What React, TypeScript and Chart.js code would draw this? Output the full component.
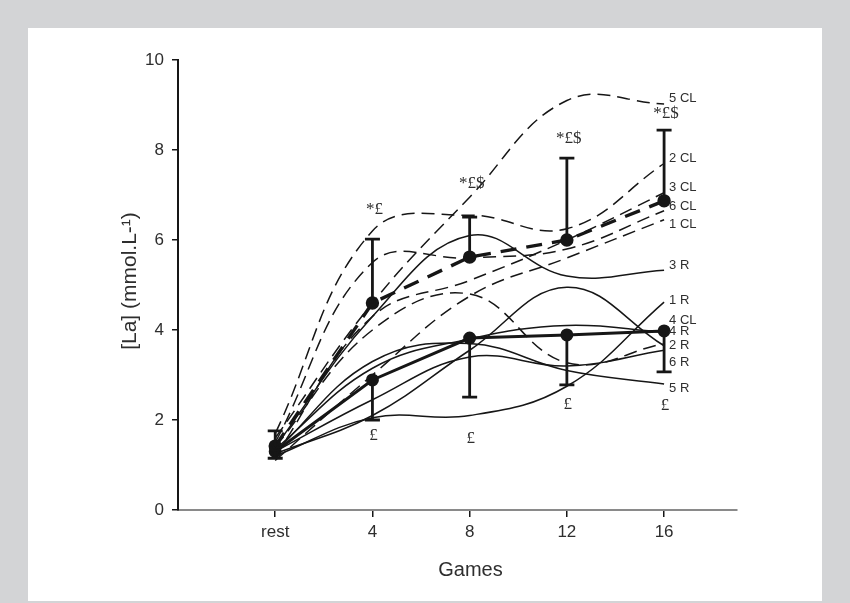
import React, { useEffect, useRef } from "react";
import { Chart, registerables } from "chart.js";

Chart.register(...registerables);

// ---- data ----
const games = [0, 4, 8, 12, 16];
const tickLabels = ["rest", "4", "8", "12", "16"];
const yTicks = [0, 2, 4, 6, 8, 10];

const cl1 = [1.1, 3.0, 4.75, 5.6, 6.45];
const cl2 = [1.7, 6.2, 6.55, 6.25, 7.7];
const cl3 = [1.2, 4.3, 5.1, 6.0, 7.05];
const cl4 = [1.4, 4.0, 4.8, 3.27, 3.7];
const cl5 = [1.6, 4.6, 6.95, 9.1, 9.02];
const cl6 = [1.5, 5.5, 5.6, 5.8, 6.65];

const r1 = [1.2, 2.05, 2.1, 2.75, 4.62];
const r2 = [1.25, 2.1, 3.55, 4.95, 3.65];
const r3 = [1.4, 4.3, 6.1, 5.2, 5.33];
const r4 = [1.35, 3.15, 3.8, 4.1, 3.95];
const r5 = [1.3, 3.3, 3.7, 3.1, 2.8];
const r6 = [1.3, 2.45, 3.4, 3.2, 3.55];

const clMean = [1.42, 4.6, 5.62, 6.0, 6.87];
const clUpper = [1.76, 6.02, 6.51, 7.82, 8.44];
const rMean = [1.3, 2.89, 3.82, 3.89, 3.98];
const rLower = [1.15, 2.0, 2.51, 2.78, 3.07];

const clMarks = ["", "*£", "*£$", "*£$", "*£$"];
const rMarks = ["", "£", "£", "£", "£"];

const clNames = ["1 CL", "2 CL", "3 CL", "4 CL", "5 CL", "6 CL"];
const rNames = ["1 R", "2 R", "3 R", "4 R", "5 R", "6 R"];

// ---- layout nudges (pixels) ----
const clMarkDy = [0, -30, -34, -20, -17];
const rMarkDy = [0, 16, 41, 20, 34];
const clNameDy = [5, -5, -5, -23, -6, -4];
const rNameDy = [-2, 0, -5, -1, 4, 12];

const INK = "#161616";
const TEXT = "#2e2e2e";
const SANS = '"Liberation Sans", Arial, sans-serif';

const toPts = (arr: number[]) => games.map((g, i) => ({ x: g, y: arr[i] }));

export default function App() {
  const ref = useRef<HTMLCanvasElement | null>(null);

  useEffect(() => {
    document.body.style.margin = "0";
    const canvas = ref.current;
    if (!canvas) return;

    const clSeries = [cl1, cl2, cl3, cl4, cl5, cl6];
    const rSeries = [r1, r2, r3, r4, r5, r6];

    const thin = (arr: number[], dashed: boolean) => ({
      data: toPts(arr),
      borderColor: INK,
      borderWidth: 1.5,
      borderDash: dashed ? [13, 7] : [],
      pointRadius: 0,
      tension: 0.4,
      fill: false,
    });

    const datasets: any[] = [
      ...clSeries.map((a) => thin(a, true)),
      ...rSeries.map((a) => thin(a, false)),
      {
        data: toPts(clMean),
        borderColor: INK,
        borderWidth: 3.4,
        borderDash: [16, 10],
        pointRadius: 5,
        pointBackgroundColor: INK,
        pointBorderColor: INK,
        tension: 0,
        fill: false,
      },
      {
        data: toPts(rMean),
        borderColor: INK,
        borderWidth: 3,
        pointRadius: 5,
        pointBackgroundColor: INK,
        pointBorderColor: INK,
        tension: 0,
        fill: false,
      },
    ];

    const overlay = {
      id: "overlay",
      afterDatasetsDraw(chart: any) {
        const { ctx, chartArea } = chart;
        const x = chart.scales.x;
        const y = chart.scales.y;
        ctx.save();
        // error bars
        ctx.strokeStyle = INK;
        ctx.lineWidth = 2.8;
        const bar = (px: number, y0: number, y1: number) => {
          ctx.beginPath();
          ctx.moveTo(px, y0);
          ctx.lineTo(px, y1);
          ctx.moveTo(px - 7.5, y1);
          ctx.lineTo(px + 7.5, y1);
          ctx.stroke();
        };
        games.forEach((g, i) => {
          const px = x.getPixelForValue(g);
          bar(px, y.getPixelForValue(clMean[i]), y.getPixelForValue(clUpper[i]));
          bar(px, y.getPixelForValue(rMean[i]), y.getPixelForValue(rLower[i]));
        });
        // significance marks
        ctx.fillStyle = TEXT;
        ctx.font = '17px "Liberation Serif", serif';
        ctx.textAlign = "center";
        ctx.textBaseline = "middle";
        games.forEach((g, i) => {
          const px = x.getPixelForValue(g);
          if (clMarks[i]) ctx.fillText(clMarks[i], px + 2, y.getPixelForValue(clUpper[i]) + clMarkDy[i]);
          if (rMarks[i]) ctx.fillText(rMarks[i], px + 1, y.getPixelForValue(rLower[i]) + rMarkDy[i]);
        });
        // series names
        ctx.font = "13px " + SANS;
        ctx.textAlign = "left";
        const last = games.length - 1;
        const ex = x.getPixelForValue(games[last]) + 5;
        clSeries.forEach((a, k) => {
          ctx.fillText(clNames[k], ex, y.getPixelForValue(a[last]) + clNameDy[k]);
        });
        rSeries.forEach((a, k) => {
          ctx.fillText(rNames[k], ex, y.getPixelForValue(a[last]) + rNameDy[k]);
        });
        // axis titles
        ctx.font = "20px " + SANS;
        ctx.textAlign = "center";
        ctx.fillText("Games", (chartArea.left + chartArea.right) / 2 + 13, chartArea.bottom + 60);
        ctx.translate(chartArea.left - 48, (chartArea.top + chartArea.bottom) / 2 - 4);
        ctx.rotate(-Math.PI / 2);
        ctx.font = "21px " + SANS;
        ctx.fillText("[La] (mmol.L-¹)", 0, 0);
        ctx.restore();
      },
    };

    const chart = new Chart(canvas, {
      type: "line",
      data: { datasets },
      options: {
        animation: false,
        responsive: false,
        devicePixelRatio: 1,
        layout: { padding: { top: 60, right: 113, left: 0, bottom: 0 } },
        plugins: { legend: { display: false }, tooltip: { enabled: false } },
        scales: {
          x: {
            type: "linear",
            min: -4,
            max: 19,
            afterBuildTicks: (s: any) => {
              s.ticks = games.map((v) => ({ value: v }));
            },
            afterFit: (s: any) => {
              s.height = 93;
            },
            ticks: {
              callback: (v: any) => tickLabels[games.indexOf(Number(v))] ?? "",
              font: { size: 17, family: SANS },
              color: TEXT,
              padding: 5,
              maxRotation: 0,
              autoSkip: false,
            },
            grid: { drawOnChartArea: false, drawTicks: true, tickLength: 7, color: INK, lineWidth: 1.5 },
            border: { display: true, color: "#8a8a8a", width: 2 },
          },
          y: {
            type: "linear",
            min: 0,
            max: 10,
            afterBuildTicks: (s: any) => {
              s.ticks = yTicks.map((v) => ({ value: v }));
            },
            afterFit: (s: any) => {
              s.width = 178;
            },
            ticks: {
              font: { size: 17, family: SANS },
              color: TEXT,
              padding: 8,
            },
            grid: { drawOnChartArea: false, drawTicks: true, tickLength: 6, color: INK, lineWidth: 1.5 },
            border: { display: true, color: INK, width: 2 },
          },
        },
      },
      plugins: [overlay],
    });

    return () => chart.destroy();
  }, []);

  return (
    <div style={{ position: "relative", width: 850, height: 603, background: "#d3d4d6", overflow: "hidden" }}>
      <div style={{ position: "absolute", left: 28, top: 28, width: 794, height: 573, background: "#ffffff" }} />
      <canvas ref={ref} width={850} height={603} style={{ position: "absolute", left: 0, top: 0 }} />
    </div>
  );
}
